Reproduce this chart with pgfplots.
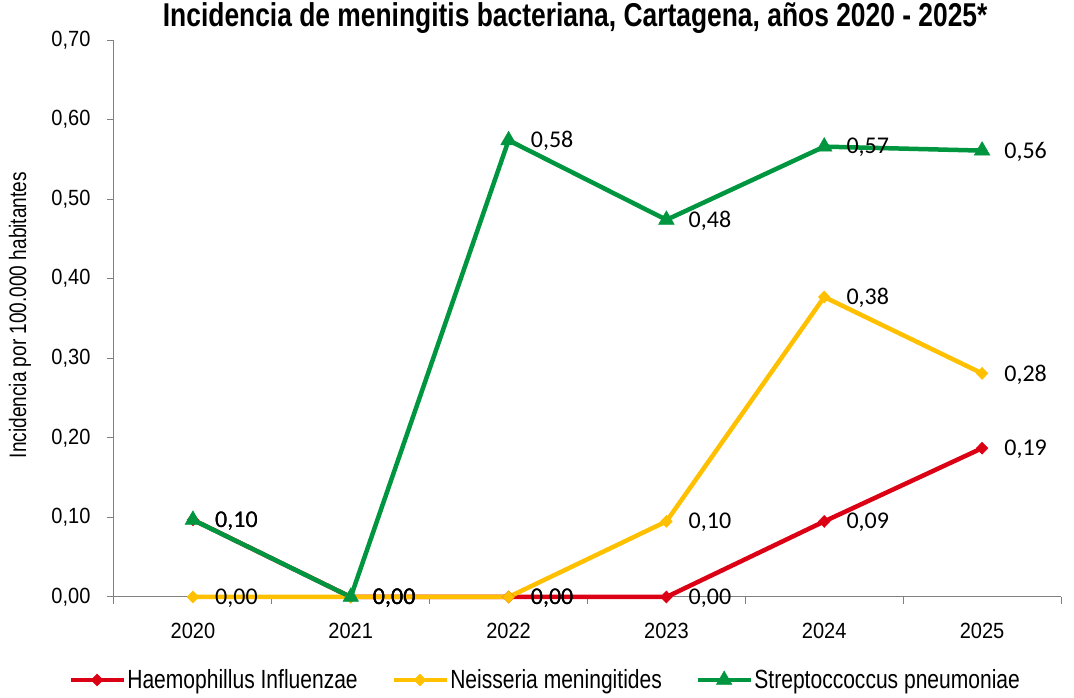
\documentclass[border=0pt]{standalone}
\usepackage{fontspec}
\setmainfont{Liberation Sans}
\newfontfamily\narrowfont[FakeStretch=0.8]{Liberation Sans}
\newfontfamily\tickfont[FakeStretch=0.91]{Liberation Sans}
\newfontfamily\calib{Carlito}
\usepackage{pgfplots}
\pgfplotsset{compat=1.18}
\definecolor{cred}{RGB}{220,0,20}
\definecolor{cyel}{RGB}{255,192,0}
\definecolor{cgreen}{RGB}{0,150,64}
\definecolor{axgray}{RGB}{128,128,128}
\begin{document}
\begin{tikzpicture}
\path[use as bounding box] (-114pt,-101pt) rectangle (960pt,597pt);
\begin{axis}[
  scale only axis,
  width=947pt, height=557pt,
  xmin=-0.5, xmax=5.5,
  ymin=0, ymax=0.7,
  clip=false,
  axis x line*=bottom,
  axis y line*=left,
  axis line style={draw=axgray, line width=1pt, -},
  tick style={draw=axgray, line width=1pt},
  tick align=outside,
  major tick length=7pt,
  xtick={-0.5,0.5,1.5,2.5,3.5,4.5,5.5},
  x tick label as interval,
  xticklabels={2020,2021,2022,2023,2024,2025},
  ytick={0,0.1,0.2,0.3,0.4,0.5,0.6,0.7},
  ticklabel style={font=\tickfont\fontsize{22}{26}\selectfont},
  xticklabel style={yshift=-16pt},
  yticklabel style={xshift=-13pt, /pgf/number format/.cd, fixed, fixed zerofill, precision=2, use comma, assume math mode=true},
  ylabel={Incidencia por 100.000 habitantes},
  ylabel style={at={(axis description cs:-0.0993,0.506)}, anchor=center, font=\narrowfont\fontsize{23.8}{26}\selectfont},
  legend columns=3,
  legend style={at={(axis description cs:0.455,-0.149)}, anchor=center, draw=none,
    font=\narrowfont\fontsize{26.3}{28}\selectfont,
    nodes={inner sep=1.5pt},
    /tikz/every even column/.append style={column sep=32pt}},
  legend image code/.code={\draw[mark repeat=2,mark phase=2,#1] plot coordinates {(0pt,0pt) (26.5pt,0pt) (53pt,0pt)};},
  nodes near coords,
  point meta=explicit symbolic,
  every node near coord/.append style={anchor=west, xshift=22pt, yshift=-1pt, inner sep=0pt, text=black, font=\calib\fontsize{24}{26}\selectfont},
]
\addplot[cred, line width=4.5pt, mark=diamond*, mark size=6pt, mark options={solid, line width=0.5pt, fill=cred, xscale=1.3}]
  table[x=x, y=y, meta=lab] {
x y lab
0 0.097 0,10
1 0 0,00
2 0 0,00
3 0 0,00
4 0.095 0,09
5 0.187 0,19
};
\addlegendentry{Haemophillus Influenzae}
\addplot[cyel, line width=4.5pt, mark=diamond*, mark size=6pt, mark options={solid, line width=0.5pt, fill=cyel, xscale=1.3}]
  table[x=x, y=y, meta=lab] {
x y lab
0 0 0,00
1 0 0,00
2 0 0,00
3 0.095 0,10
4 0.377 0,38
5 0.281 0,28
};
\addlegendentry{Neisseria meningitides}
\addplot[cgreen, line width=4.5pt, mark=triangle*, mark size=9pt, mark options={solid, line width=0.5pt, fill=cgreen}]
  table[x=x, y=y, meta=lab] {
x y lab
0 0.097 0,10
1 0 0,00
2 0.574 0,58
3 0.474 0,48
4 0.566 0,57
5 0.561 0,56
};
\addlegendentry{Streptoccoccus pneumoniae}
\node[font=\narrowfont\bfseries\fontsize{33}{36}\selectfont, anchor=center] at (axis description cs:0.487,1.0395) {Incidencia de meningitis bacteriana, Cartagena, años 2020 - 2025*};
\end{axis}
\end{tikzpicture}
\end{document}
